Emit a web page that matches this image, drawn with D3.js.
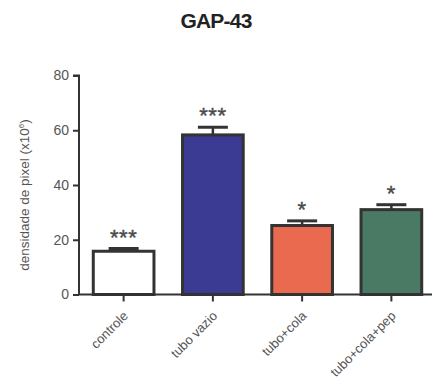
<!DOCTYPE html>
<html>
<head>
<meta charset="utf-8">
<script src="https://cdn.jsdelivr.net/npm/d3@7"></script>
<style>
  body { margin: 0; background: #fff; }
  text { font-family: "Liberation Sans", Arial, sans-serif; }
</style>
</head>
<body>
<div id="chart"></div>
<script>
// data
var groups = ["controle", "tubo vazio", "tubo+cola", "tubo+cola+pep"];
var means = [15.8, 58.3, 25.2, 31.0];
var sems = [1.0, 2.8, 1.7, 1.8];
var stars = ["***", "***", "*", "*"];
var fills = ["#ffffff", "#3b3b93", "#ea6a4f", "#4a7a63"];
var yTicks = [0, 20, 40, 60, 80];

var W = 432, H = 391;
var svg = d3.select("#chart").append("svg")
  .attr("width", W).attr("height", H);

var x = d3.scaleBand().domain(groups)
  .range([79, 436]).paddingInner(0.32).paddingOuter(0.16);
var y = d3.scaleLinear().domain([0, 80]).range([294.5, 75.5]);

// title
svg.append("text")
  .attr("x", 216).attr("y", 28)
  .attr("text-anchor", "middle")
  .style("font-size", "21px").style("font-weight", "bold")
  .style("letter-spacing", "-0.8px")
  .attr("fill", "#222")
  .text("GAP-43");

// y label
var yl = svg.append("text")
  .attr("transform", "translate(29,195) rotate(-90)")
  .attr("text-anchor", "middle")
  .style("font-size", "13.5px")
  .attr("fill", "#555");
yl.append("tspan").text("densidade de pixel (x10");
yl.append("tspan").attr("dy", -5).style("font-size", "8px").text("6");
yl.append("tspan").attr("dy", 5).text(")");

// bars
var g = svg.append("g");
g.selectAll("rect.bar").data(groups).enter().append("rect")
  .attr("class", "bar")
  .attr("x", d => x(d))
  .attr("y", (d, i) => y(means[i]))
  .attr("width", x.bandwidth())
  .attr("height", (d, i) => y(0) - y(means[i]))
  .attr("fill", (d, i) => fills[i])
  .attr("stroke", "#333").attr("stroke-width", 3);

// error bars (upper only)
groups.forEach((d, i) => {
  var cx = x(d) + x.bandwidth() / 2;
  g.append("line")
    .attr("x1", cx).attr("x2", cx)
    .attr("y1", y(means[i])).attr("y2", y(means[i] + sems[i]))
    .attr("stroke", "#333").attr("stroke-width", 2.5);
  g.append("line")
    .attr("x1", cx - 15).attr("x2", cx + 15)
    .attr("y1", y(means[i] + sems[i])).attr("y2", y(means[i] + sems[i]))
    .attr("stroke", "#333").attr("stroke-width", 3);
  g.append("text")
    .attr("x", cx).attr("y", y(means[i] + sems[i]) - 4)
    .attr("text-anchor", "middle")
    .style("font-size", "22px")
    .style("letter-spacing", "0.5px")
    .attr("fill", "#4a4a4a")
    .attr("stroke", "#4a4a4a").attr("stroke-width", 0.4)
    .text(stars[i]);
});

// y axis
var yAxis = svg.append("g")
  .attr("transform", "translate(79,0)")
  .call(d3.axisLeft(y).tickValues(yTicks).tickSize(6).tickPadding(4));
yAxis.select(".domain").attr("stroke", "#333").attr("stroke-width", 2)
  .attr("d", "M-6," + y(80) + "H0V" + y(0));
yAxis.selectAll(".tick line").attr("stroke", "#333").attr("stroke-width", 2);
yAxis.selectAll(".tick text").attr("fill", "#555")
  .style("font-size", "14px").style("font-family", "Liberation Sans, Arial, sans-serif");

// x axis
var xAxis = svg.append("g")
  .attr("transform", "translate(0," + y(0) + ")")
  .call(d3.axisBottom(x).tickSize(7).tickSizeOuter(0));
xAxis.select(".domain").attr("stroke", "#333").attr("stroke-width", 2)
  .attr("d", "M79,0H432");
xAxis.selectAll(".tick line").attr("stroke", "#333").attr("stroke-width", 2);
xAxis.selectAll(".tick text")
  .attr("fill", "#555")
  .style("font-size", "13px").style("font-family", "Liberation Sans, Arial, sans-serif")
  .attr("text-anchor", "end")
  .attr("x", 0).attr("y", 0)
  .attr("dy", "0.35em")
  .attr("transform", "translate(2,19) rotate(-45)");
</script>
</body>
</html>
